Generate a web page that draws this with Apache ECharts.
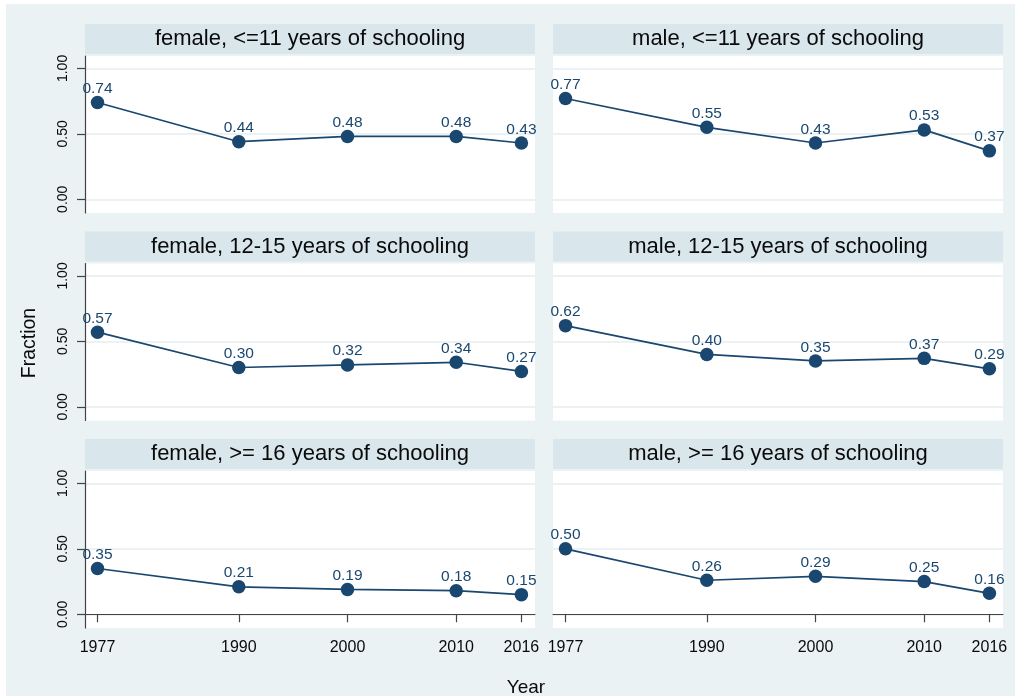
<!DOCTYPE html>
<html>
<head>
<meta charset="utf-8">
<script src="https://cdn.jsdelivr.net/npm/echarts@6/dist/echarts.min.js"></script>
<style>
  html, body { margin: 0; padding: 0; background: #ffffff; }
  #chart { width: 1015px; height: 696px; }
</style>
</head>
<body>
<div id="chart"></div>
<script>
// Survey years on the horizontal axis
const years = [1977, 1990, 2000, 2010, 2016];

// Panel headings, row by row (left: female, right: male)
const panelTitles = [
  'female, <=11 years of schooling',
  'male, <=11 years of schooling',
  'female, 12-15 years of schooling',
  'male, 12-15 years of schooling',
  'female, >= 16 years of schooling',
  'male, >= 16 years of schooling'
];

// Fraction per year for each group
const femaleUpTo11 = [0.74, 0.44, 0.48, 0.48, 0.43];
const maleUpTo11 = [0.77, 0.55, 0.43, 0.53, 0.37];
const female12to15 = [0.57, 0.30, 0.32, 0.34, 0.27];
const male12to15 = [0.62, 0.40, 0.35, 0.37, 0.29];
const female16plus = [0.35, 0.21, 0.19, 0.18, 0.15];
const male16plus = [0.50, 0.26, 0.29, 0.25, 0.16];

// Tick positions on the value axis
const yTicks = [0, 0.5, 1];

const panelValues = [femaleUpTo11, maleUpTo11, female12to15, male12to15, female16plus, male16plus];

const FONT = '"Liberation Sans", Arial, Helvetica, sans-serif';
const NAVY = '#1a476f';
const AXIS = '#444444';
const TEXT = '#0a0a0a';
const GRIDLINE = '#e6eef1';
const HEADER_BG = '#d9e6eb';
const OUTER_BG = '#eaf2f3';

const PLOT_W = 450, PLOT_H = 157;
const COL_X = [85, 553];
const ROW_Y = [56, 263.5, 471];

const grids = [], xAxes = [], yAxes = [], series = [];
const graphics = [
  { type: 'rect', z: -100, silent: true,
    shape: { x: 6, y: 4, width: 1009, height: 692 },
    style: { fill: OUTER_BG } }
];

panelValues.forEach((vals, i) => {
  const col = i % 2, row = Math.floor(i / 2);
  const left = COL_X[col], top = ROW_Y[row];
  const isBottom = row === 2, isLeft = col === 0;

  grids.push({
    left: left, top: top, width: PLOT_W, height: PLOT_H,
    show: true, backgroundColor: '#ffffff', borderWidth: 0
  });

  xAxes.push({
    type: 'value', gridIndex: i, min: 1975.85, max: 2017.25,
    show: isBottom,
    axisLine: { show: true, lineStyle: { color: AXIS, width: 1.2 } },
    axisTick: { show: true, customValues: years, length: 8, lineStyle: { color: AXIS, width: 1.2 } },
    axisLabel: {
      show: true, customValues: years, margin: 12,
      formatter: v => String(v),
      color: TEXT, fontSize: 16, fontFamily: FONT
    },
    splitLine: { show: false }
  });

  yAxes.push({
    type: 'value', gridIndex: i, min: -0.105, max: 1.095,
    axisLine: { show: isLeft, lineStyle: { color: AXIS, width: 1.2 } },
    axisTick: { show: isLeft, customValues: yTicks, length: 8, lineStyle: { color: AXIS, width: 1.2 } },
    axisLabel: {
      show: isLeft, customValues: yTicks, rotate: 90, margin: 15,
      formatter: v => v.toFixed(2),
      color: TEXT, fontSize: 14, fontFamily: FONT
    },
    splitLine: { show: true, lineStyle: { color: GRIDLINE, width: 1.6 } }
  });

  series.push({
    type: 'line', xAxisIndex: i, yAxisIndex: i,
    data: years.map((y, j) => [y, vals[j]]),
    symbol: 'circle', symbolSize: 13.5,
    itemStyle: { color: NAVY },
    lineStyle: { color: NAVY, width: 1.7 },
    label: {
      show: true, position: 'top', distance: -1,
      formatter: p => p.value[1].toFixed(2),
      color: NAVY, fontSize: 15.5, fontFamily: FONT
    },
    emphasis: { disabled: true },
    animation: false
  });

  // panel heading strip
  graphics.push({
    type: 'rect', silent: true, z: -50,
    shape: { x: left, y: top - 32, width: PLOT_W, height: 30 },
    style: { fill: HEADER_BG }
  });
  graphics.push({
    type: 'text', silent: true,
    x: left + PLOT_W / 2, y: top - 17,
    style: {
      text: panelTitles[i], fill: TEXT,
      font: '22px ' + FONT, textAlign: 'center', textVerticalAlign: 'middle'
    }
  });
});

// axis titles
graphics.push({
  type: 'text', silent: true, x: 30, y: 343, rotation: Math.PI / 2,
  style: { text: 'Fraction', fill: TEXT, font: '19.5px ' + FONT,
           textAlign: 'center', textVerticalAlign: 'middle' }
});
graphics.push({
  type: 'text', silent: true, x: 526, y: 688,
  style: { text: 'Year', fill: TEXT, font: '19px ' + FONT,
           textAlign: 'center', textVerticalAlign: 'middle' }
});

const chart = echarts.init(document.getElementById('chart'), null, { renderer: 'canvas' });
chart.setOption({
  animation: false,
  backgroundColor: 'transparent',
  grid: grids,
  xAxis: xAxes,
  yAxis: yAxes,
  series: series,
  graphic: graphics
});
</script>
</body>
</html>
